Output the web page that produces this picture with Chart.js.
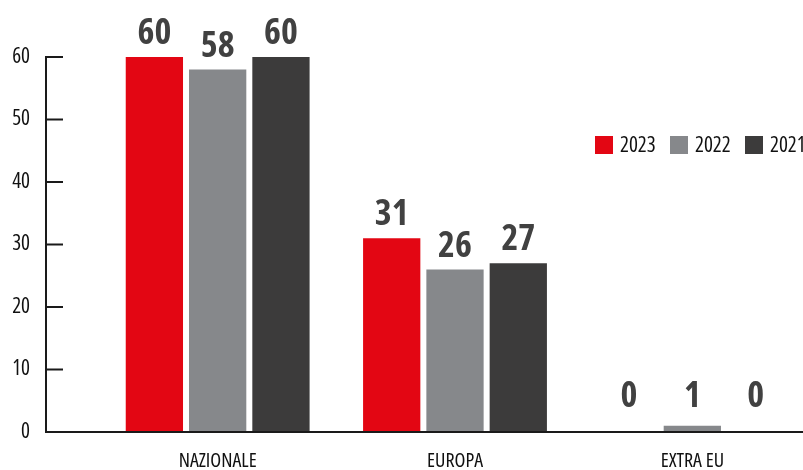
<!DOCTYPE html>
<html>
<head>
<meta charset="utf-8">
<script src="https://cdn.jsdelivr.net/npm/chart.js@4.4.1/dist/chart.umd.min.js"></script>
<style>
  html, body { margin: 0; padding: 0; background: #fff; }
  #chart { display: block; }
</style>
</head>
<body>
<canvas id="chart" width="803" height="470"></canvas>
<script>
// Provenienza - confronto 2023 / 2022 / 2021
const categories = ['NAZIONALE', 'EUROPA', 'EXTRA EU'];
const years = ['2023', '2022', '2021'];
const values2023 = [60, 31, 0];
const values2022 = [58, 26, 1];
const values2021 = [60, 27, 0];
const yTicks = [0, 10, 20, 30, 40, 50, 60];

const colors = ['#e30613', '#86888b', '#3c3b3b'];
const FAMILY = "'Open Sans', 'DejaVu Sans', sans-serif";
// font-stretch goes in front of the size in the canvas font string
const COND = 'condensed';
const AXIS_X = 46;

// let the category slots run a little past the right edge
const widenX = {
  id: 'widenX',
  afterLayout(chart) {
    const x = chart.scales.x;
    x.right += 8;
    x.width += 8;
    x.configure();
  }
};

// left axis line with short inward ticks, baseline across the full width
const axisLines = {
  id: 'axisLines',
  afterDatasetsDraw(chart) {
    const ctx = chart.ctx;
    const y = chart.scales.y;
    const base = y.getPixelForValue(0);
    ctx.save();
    ctx.strokeStyle = '#1a1a1a';
    ctx.lineWidth = 2;
    ctx.beginPath();
    ctx.moveTo(AXIS_X, y.getPixelForValue(yTicks[yTicks.length - 1]) - 1);
    ctx.lineTo(AXIS_X, base);
    ctx.lineTo(chart.width, base);
    yTicks.forEach(v => {
      const py = y.getPixelForValue(v);
      ctx.moveTo(AXIS_X, py);
      ctx.lineTo(AXIS_X + 17, py);
    });
    ctx.stroke();
    ctx.restore();
  }
};

// value labels above each bar, kept clear of the baseline for tiny bars
const valueLabels = {
  id: 'valueLabels',
  afterDatasetsDraw(chart) {
    const ctx = chart.ctx;
    const base = chart.scales.y.getPixelForValue(0);
    ctx.save();
    ctx.font = 'bold ' + COND + ' 36px ' + FAMILY;
    ctx.fillStyle = '#414141';
    ctx.textAlign = 'center';
    ctx.textBaseline = 'alphabetic';
    chart.data.datasets.forEach((ds, i) => {
      chart.getDatasetMeta(i).data.forEach((bar, j) => {
        const y = Math.min(bar.y - 13, base - 25);
        ctx.fillText(String(ds.data[j]), bar.x, y);
      });
    });
    ctx.restore();
  }
};

// legend row on the right, beside the tall bars
const yearLegend = {
  id: 'yearLegend',
  afterDraw(chart) {
    const ctx = chart.ctx;
    const cy = 145;
    let x = 595;
    ctx.save();
    ctx.font = COND + ' 21px ' + FAMILY;
    ctx.textBaseline = 'middle';
    ctx.textAlign = 'left';
    chart.data.datasets.forEach(ds => {
      ctx.fillStyle = ds.backgroundColor;
      ctx.fillRect(x, cy - 9, 18, 18);
      ctx.fillStyle = '#111';
      ctx.fillText(ds.label, x + 25, cy + 1);
      x += 75;
    });
    ctx.restore();
  }
};

new Chart(document.getElementById('chart'), {
  type: 'bar',
  data: {
    labels: categories,
    datasets: [
      { label: years[0], data: values2023, backgroundColor: colors[0] },
      { label: years[1], data: values2022, backgroundColor: colors[1] },
      { label: years[2], data: values2021, backgroundColor: colors[2] }
    ]
  },
  options: {
    responsive: false,
    animation: false,
    layout: { padding: { top: 57, right: 0, bottom: 0, left: 0 } },
    datasets: { bar: { categoryPercentage: 0.8, barPercentage: 0.905 } },
    plugins: {
      tooltip: { enabled: false },
      legend: { display: false }
    },
    scales: {
      x: {
        grid: { display: false, drawTicks: false },
        border: { display: false },
        ticks: { color: '#111', padding: 17, font: { family: FAMILY, weight: COND, size: 20 } },
        afterFit: s => { s.height = 38; }
      },
      y: {
        min: 0,
        max: 60,
        afterBuildTicks: s => { s.ticks = yTicks.map(v => ({ value: v })); },
        grid: { display: false, drawTicks: false },
        border: { display: false },
        ticks: { color: '#111', padding: 69, font: { family: FAMILY, weight: COND, size: 21 } },
        afterFit: s => {
          s.width = 99;
          s.paddingTop = 0;
          s.paddingBottom = 0;
        }
      }
    }
  },
  plugins: [widenX, axisLines, valueLabels, yearLegend]
});
</script>
</body>
</html>
